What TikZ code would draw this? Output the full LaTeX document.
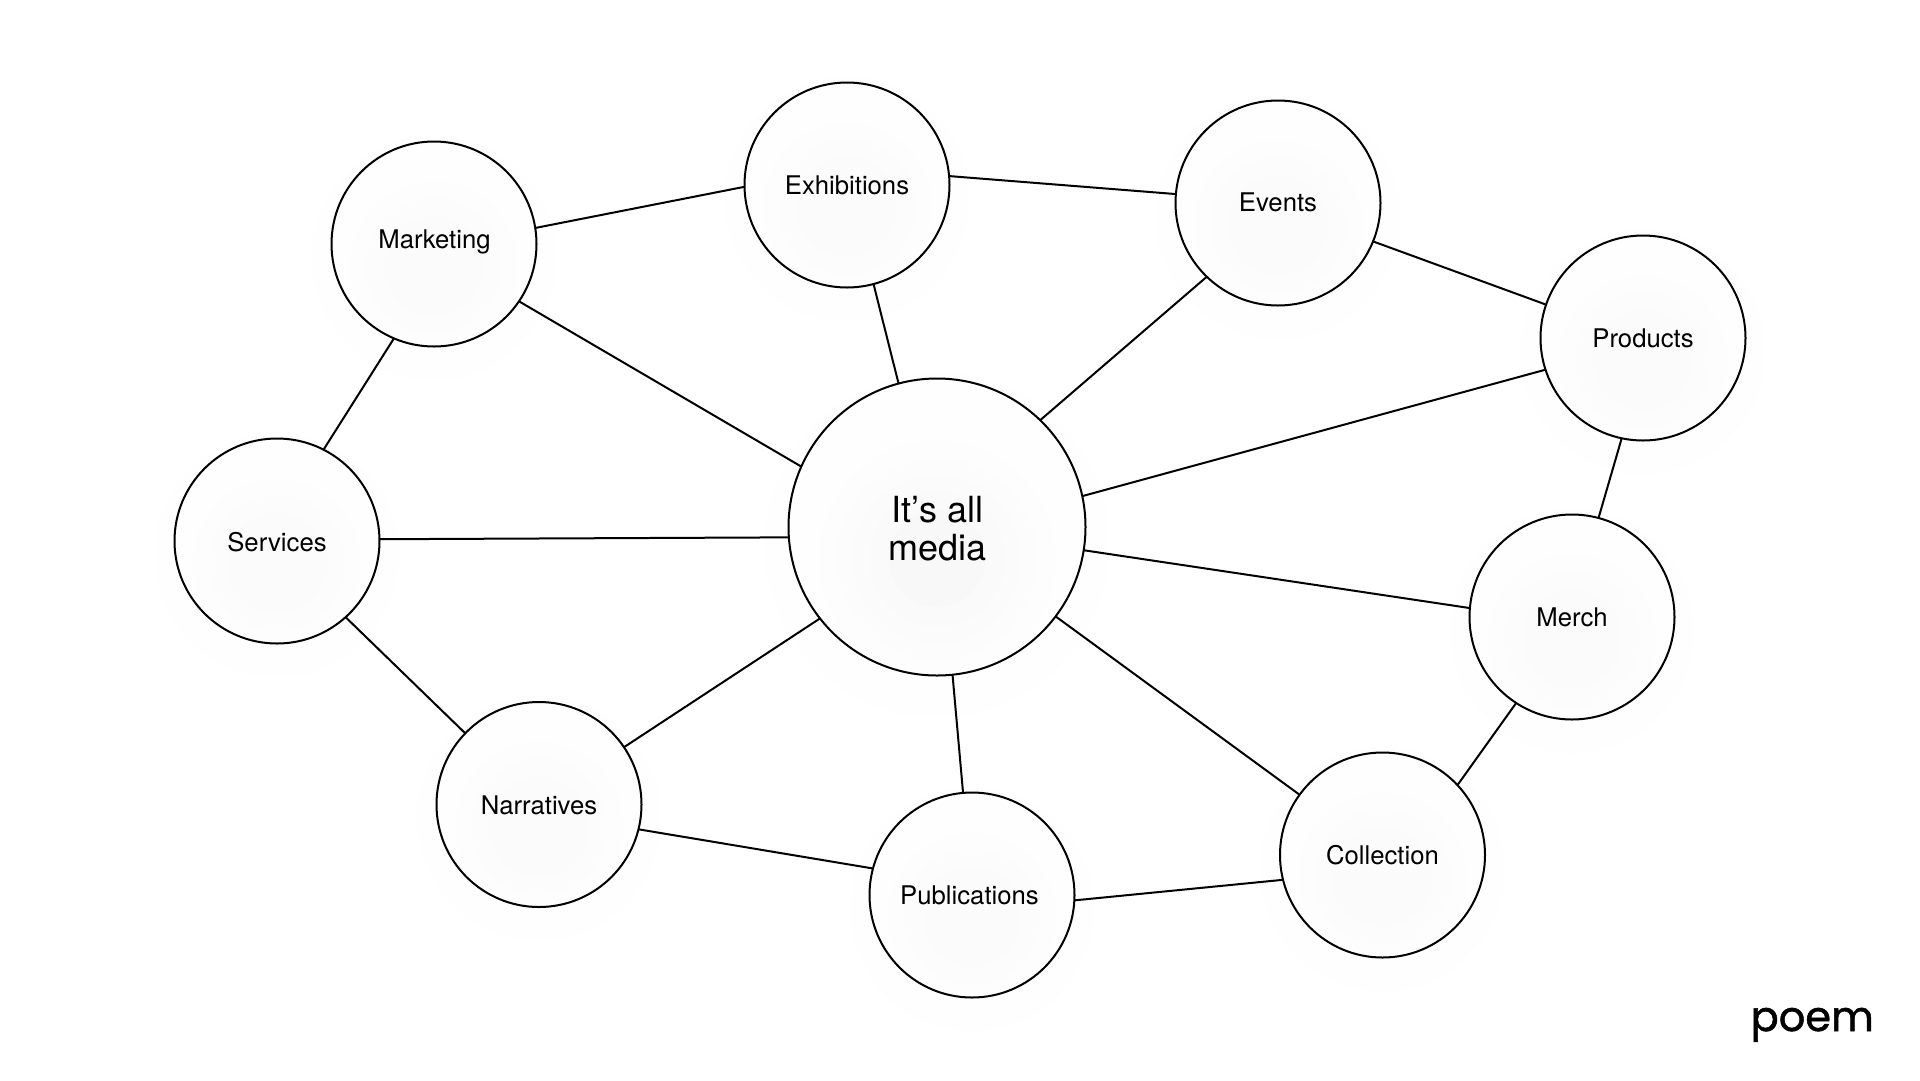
\documentclass[tikz,border=0pt]{standalone}
\usepackage{fontspec}
\setmainfont{TeX Gyre Heros}
\newfontfamily\logofont[FakeBold=1.2]{Poppins}
\definecolor{gA}{gray}{0.996}
\definecolor{gB}{gray}{0.992}
\definecolor{gC}{gray}{0.988}
\definecolor{gD}{gray}{0.984}
\definecolor{gE}{gray}{0.980}
\definecolor{gF}{gray}{0.972}
\tikzset{
  smallcircle/.style={circle,draw=black,line width=2pt,minimum size=205pt,inner sep=0pt,outer sep=0pt,
    path picture={
      \coordinate (pc) at ([yshift=-22pt]path picture bounding box.center);
      \fill[gA] (pc) circle (100pt);
      \fill[gB] (pc) circle (84pt);
      \fill[gC] (pc) circle (68pt);
      \fill[gD] (pc) circle (50pt);
    }},
  bigcircle/.style={circle,draw=black,line width=2pt,minimum size=297pt,inner sep=0pt,outer sep=0pt,
    path picture={
      \coordinate (pc) at ([yshift=-32pt]path picture bounding box.center);
      \fill[gA] (pc) circle (136pt);
      \fill[gB] (pc) circle (118pt);
      \fill[gC] (pc) circle (100pt);
      \fill[gD] (pc) circle (84pt);
      \fill[gE] (pc) circle (68pt);
      \fill[gF] (pc) circle (48pt);
    }},
  smalltext/.style={font=\fontsize{25.7pt}{30pt}\selectfont,inner sep=0pt,anchor=base},
  bigtext/.style={font=\fontsize{36pt}{38pt}\selectfont,align=center,inner sep=0pt},
  edgeline/.style={draw=black,line width=2pt},
  logotext/.style={font=\logofont\fontsize{41.5pt}{42pt}\selectfont,text=black,inner sep=0pt}
}
\begin{document}
\begin{tikzpicture}[x=1pt,y=-1pt]
\useasboundingbox (0,0) rectangle (1920,1080);
\fill[white] (0,0) rectangle (1920,1080);
% very faint halos
\foreach \x/\y in {434/244,847/185,1278/203,1643/338,1572/617,1382.5/855,972/895,539/804.5,277/541}{
  \fill[gA] (\x,\y+14) circle (122pt);
}
\fill[gA] (937,545) circle (172pt);
\node[smallcircle] (marketing) at (434,244) {};
\node[smallcircle] (exhibitions) at (847,185) {};
\node[smallcircle] (events) at (1278,203) {};
\node[smallcircle] (products) at (1643,338) {};
\node[smallcircle] (merch) at (1572,617) {};
\node[smallcircle] (collection) at (1382.5,855) {};
\node[smallcircle] (publications) at (972,895) {};
\node[smallcircle] (narratives) at (539,804.5) {};
\node[smallcircle] (services) at (277,541) {};
\node[bigcircle] (media) at (937,527) {};
\node[smalltext] (tmarketing) at (434.5,248.3) {Marketing};
\node[smalltext] (texhibitions) at (847,194.5) {Exhibitions};
\node[smalltext] (tevents) at (1278,211) {Events};
\node[smalltext] (tproducts) at (1643,347) {Products};
\node[smalltext] (tmerch) at (1572,626) {Merch};
\node[smalltext] (tcollection) at (1382.5,864.5) {Collection};
\node[smalltext] (tpublications) at (969.5,904.3) {Publications};
\node[smalltext] (tnarratives) at (539,814.5) {Narratives};
\node[smalltext] (tservices) at (277,551) {Services};
\node[bigtext] (tmedia) at (937.5,528.5) {It’s all\\media};
\draw[edgeline] (marketing.9.2) -- (exhibitions.181.4);
\draw[edgeline] (exhibitions.5.5) -- (events.175.3);
\draw[edgeline] (events.-22.8) -- (products.161.1);
\draw[edgeline] (products.-102.5) -- (merch.75);
\draw[edgeline] (merch.-123) -- (collection.43.6);
\draw[edgeline] (collection.194.3) -- (publications.-3.5);
\draw[edgeline] (publications.165.2) -- (narratives.-14.2);
\draw[edgeline] (narratives.136.5) -- (services.-48);
\draw[edgeline] (services.63.4) -- (marketing.-113.2);
\draw[edgeline] (marketing.-34) -- (media.156.4);
\draw[edgeline] (exhibitions.-75.1) -- (media.105.3);
\draw[edgeline] (events.226.5) -- (media.46.5);
\draw[edgeline] (products.198.2) -- (media.12.1);
\draw[edgeline] (merch.175.5) -- (media.-9.6);
\draw[edgeline] (collection.144.8) -- (media.-37.8);
\draw[edgeline] (publications.95.4) -- (media.-84.8);
\draw[edgeline] (narratives.34.3) -- (media.218.3);
\draw[edgeline] (services.1.7) -- (media.184.5);
\node[logotext,anchor=base west] (logo) at (1750.5,1031) {poem};
\end{tikzpicture}
\end{document}
